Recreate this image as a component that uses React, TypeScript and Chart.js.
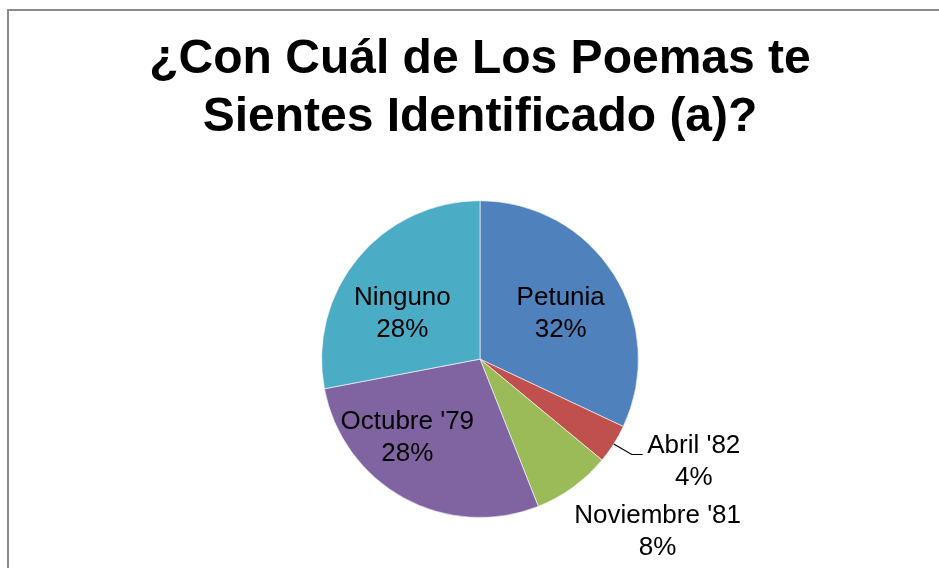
import React, { useEffect, useRef } from "react";
import { Chart, registerables } from "chart.js";

Chart.register(...registerables);

const TITLE_LINES = ["¿Con Cuál de Los Poemas te", "Sientes Identificado (a)?"];
const CATEGORIES = ["Petunia", "Abril '82", "Noviembre '81", "Octubre '79", "Ninguno"];
const PERCENTAGES = [32, 4, 8, 28, 28];
const COLORS = ["#4F81BD", "#C0504D", "#9BBB59", "#8064A2", "#4BACC6"];

// label placement styles (relative to each arc's geometry)
type Placement =
  | { mode: "inside"; frac: number; shiftDeg: number }
  | { mode: "outside"; dx: number; dy: number; leader: boolean };
const LABEL_PLACEMENT: Placement[] = [
  { mode: "inside", frac: 0.583, shiftDeg: 3.3 },
  { mode: "outside", dx: 80, dy: 18, leader: true },
  { mode: "outside", dx: 84.5, dy: 45, leader: false },
  { mode: "inside", frac: 0.677, shiftDeg: 13.9 },
  { mode: "inside", frac: 0.569, shiftDeg: -9.1 },
];

const FONT = "'Liberation Sans', Arial, sans-serif";

const labelPlugin = {
  id: "pieLabels",
  afterDatasetsDraw(chart: any) {
    const ctx = chart.ctx as CanvasRenderingContext2D;
    const meta = chart.getDatasetMeta(0);
    const data = chart.data.datasets[0].data as number[];
    const total = data.reduce((a, b) => a + b, 0);
    ctx.save();
    ctx.fillStyle = "#000";
    ctx.font = `26px ${FONT}`;
    ctx.textAlign = "center";
    ctx.textBaseline = "middle";
    meta.data.forEach((arc: any, i: number) => {
      const { x, y, startAngle, endAngle, outerRadius } = arc.getProps(
        ["x", "y", "startAngle", "endAngle", "outerRadius"],
        true
      );
      const mid = (startAngle + endAngle) / 2;
      const p = LABEL_PLACEMENT[i];
      const pct = Math.round((data[i] / total) * 100) + "%";
      let cx: number, cy: number;
      if (p.mode === "inside") {
        const a = mid + (p.shiftDeg * Math.PI) / 180;
        const d = outerRadius * p.frac;
        cx = x + Math.cos(a) * d;
        cy = y + Math.sin(a) * d;
      } else {
        const ex = x + Math.cos(mid) * outerRadius;
        const ey = y + Math.sin(mid) * outerRadius;
        cx = ex + p.dx;
        cy = ey + p.dy;
        if (p.leader) {
          ctx.save();
          ctx.strokeStyle = "#000";
          ctx.lineWidth = 1.2;
          const ly = Math.round(ey + 10) + 0.5;
          ctx.beginPath();
          ctx.moveTo(ex, ey);
          ctx.lineTo(ex + 18, ly);
          ctx.lineTo(ex + 29, ly);
          ctx.stroke();
          ctx.restore();
        }
      }
      ctx.fillText(CATEGORIES[i], cx, cy - 16);
      ctx.fillText(pct, cx, cy + 16);
    });
    ctx.restore();
  },
};

export default function App() {
  const canvasRef = useRef<HTMLCanvasElement | null>(null);

  useEffect(() => {
    if (!canvasRef.current) return;
    const chart = new Chart(canvasRef.current, {
      type: "pie",
      data: {
        labels: CATEGORIES,
        datasets: [
          {
            data: PERCENTAGES,
            backgroundColor: COLORS,
            borderColor: "rgba(255,255,255,0.6)",
            borderWidth: 1,
          },
        ],
      },
      options: {
        animation: false,
        responsive: true,
        maintainAspectRatio: false,
        layout: { padding: { top: 0, bottom: 50, left: 0, right: 0 } },
        plugins: {
          legend: { display: false },
          tooltip: { enabled: false },
          title: {
            display: true,
            text: TITLE_LINES,
            color: "#000",
            font: { family: FONT, size: 48, weight: "bold", lineHeight: 1.2 },
            padding: { top: 20, bottom: 54 },
          },
        },
      },
      plugins: [labelPlugin],
    });
    return () => chart.destroy();
  }, []);

  return (
    <div
      style={{
        position: "fixed",
        left: 0,
        top: 0,
        width: 939,
        height: 568,
        overflow: "hidden",
        background: "#fff",
      }}
    >
      <div
        style={{
          position: "absolute",
          left: 7,
          top: 9,
          width: 1000,
          height: 700,
          borderLeft: "2px solid #8a8a8a",
          borderTop: "2px solid #8a8a8a",
        }}
      />
      <div style={{ position: "absolute", left: 9, top: 11, width: 942, height: 557 }}>
        <canvas ref={canvasRef} />
      </div>
    </div>
  );
}
